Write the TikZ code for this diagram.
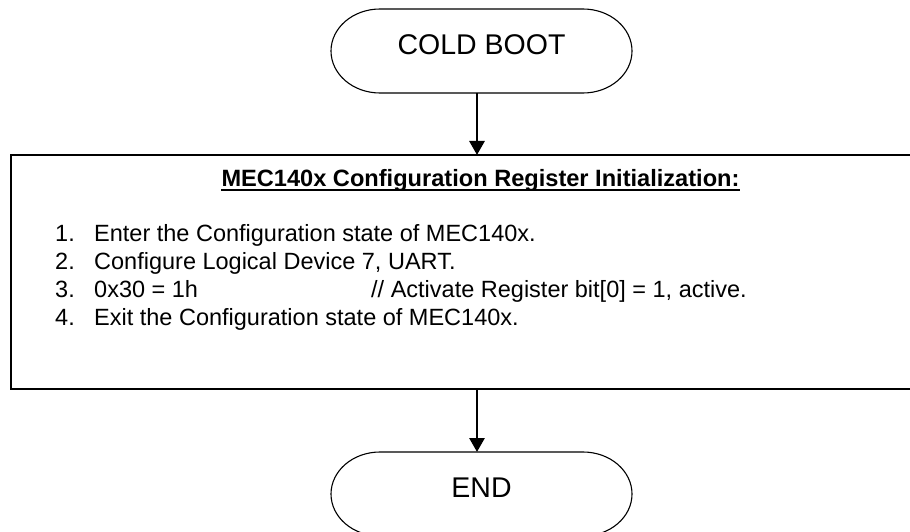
\documentclass[tikz,border=0pt]{standalone}
\usepackage{fontspec}
\setmainfont{Liberation Sans}
\usetikzlibrary{arrows.meta}
\begin{document}
\begin{tikzpicture}[x=1pt,y=-1pt,
  term/.style={rectangle,draw=none,inner sep=0pt,outer sep=0pt,minimum width=301pt,minimum height=84pt,
    font=\fontsize{28.5}{30}\selectfont,text height=20pt,text depth=13pt},
  outline/.style={line width=1.1pt,black},
  procbox/.style={rectangle,draw=black,line width=1.4pt,inner sep=0pt,outer sep=0pt,minimum width=901pt,minimum height=234pt},
  body/.style={anchor=base west,inner sep=0pt,font=\fontsize{23.5}{26}\selectfont},
  ttl/.style={anchor=base,inner sep=0pt,font=\fontsize{23.6}{25}\selectfont\bfseries},
  flow/.style={line width=2.8pt,-{Triangle[length=14pt,width=15pt]}}
]
\useasboundingbox (0,0) rectangle (910,532);
% nodes
\node[term] (cold) at (481.5,51) {COLD BOOT};
\node[procbox] (box) at (461.5,272) {};
\node[term] (end) at (481.5,494) {END};
% terminal outlines
\foreach \t in {cold,end}{
  \draw[outline] ([xshift=49pt]\t.north west) -- ([xshift=-49pt]\t.north east)
    arc[start angle=90,end angle=-90,x radius=49pt,y radius=42pt]
    -- ([xshift=49pt]\t.south west)
    arc[start angle=270,end angle=90,x radius=49pt,y radius=42pt] -- cycle;
}
% title
\node[ttl] (title) at (480.5,186.7) {MEC140x Configuration Register Initialization:};
\draw[line width=1.8pt] ([yshift=-3.5pt]title.base west) -- ([yshift=-3.5pt]title.base east);
% list
\node[body] (n1) at (55,241) {1.};
\node[body] (t1) at (94,241) {Enter the Configuration state of MEC140x.};
\node[body] (n2) at (55,269.3) {2.};
\node[body] (t2) at (94,269.3) {Configure Logical Device 7, UART.};
\node[body] (n3) at (55,297.3) {3.};
\node[body] (t3) at (94,297.3) {0x30 = 1h};
\node[body] (c3) at (371,297.3) {// Activate Register bit[0] = 1, active.};
\node[body] (n4) at (55,325) {4.};
\node[body] (t4) at (94,325) {Exit the Configuration state of MEC140x.};
% connectors
\draw[flow] (cold.south -| 477,0) -- (box.north -| 477,0);
\draw[flow] (box.south -| 477,0) -- (end.north -| 477,0);
\end{tikzpicture}
\end{document}
